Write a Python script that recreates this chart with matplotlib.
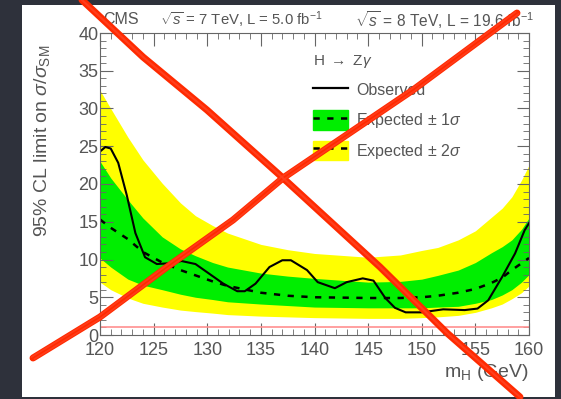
import matplotlib
matplotlib.use('Agg')
import matplotlib.pyplot as plt
from matplotlib.patches import Patch, Rectangle
from matplotlib.lines import Line2D
from matplotlib.ticker import MultipleLocator

plt.rcParams['font.family'] = ['Liberation Sans', 'DejaVu Sans']
plt.rcParams['mathtext.fontset'] = 'custom'
plt.rcParams['mathtext.rm'] = 'Liberation Sans'
plt.rcParams['mathtext.it'] = 'Liberation Sans:italic'

# observed limit
mh_obs = [120, 120.5, 121, 121.7, 122.5, 123.3, 124.2, 125.3, 126.5, 127.6, 128.9,
          130, 131.5, 132.8, 133.5, 134.5, 135.8, 137, 137.8, 139.3, 140.3, 141.9,
          143, 144.5, 145.5, 146.6, 147.5, 148.5, 150, 152, 154, 155.2, 156.2,
          157.5, 158.7, 159.6, 160]
obs = [24.3, 24.9, 24.7, 22.8, 18.5, 13.5, 10.3, 9.4, 9.5, 9.8, 9.4,
       8.3, 6.8, 5.8, 5.8, 6.8, 9.0, 9.9, 9.9, 8.6, 7.0, 6.2,
       7.0, 7.5, 7.2, 4.9, 3.6, 3.0, 3.0, 3.4, 3.3, 3.5, 4.6,
       7.7, 10.8, 13.9, 14.8]

# expected limit with 1 and 2 sigma bands
mh_exp = [120, 121, 122.6, 124, 125.8, 127.5, 128.9, 130.5, 131.9, 135, 137.5, 140,
          145, 148, 150, 151.5, 153.4, 155, 156.5, 157.5, 158.4, 159.3, 160]
exp_med = [15.3, 14.2, 12.7, 11.0, 9.6, 8.6, 7.9, 7.1, 6.5, 5.6, 5.2, 5.0,
           4.9, 4.9, 5.0, 5.2, 5.6, 6.1, 6.9, 7.6, 8.6, 9.5, 10.2]
exp_m2 = [7.0, 6.0, 4.9, 4.2, 3.7, 3.3, 3.1, 2.9, 2.7, 2.5, 2.4, 2.3,
          2.2, 2.2, 2.3, 2.4, 2.6, 3.0, 3.6, 4.1, 4.8, 5.6, 6.5]
exp_m1 = [10.2, 9.0, 7.4, 6.6, 6.0, 5.4, 5.0, 4.7, 4.4, 4.1, 3.9, 3.7,
          3.6, 3.6, 3.6, 3.7, 3.8, 4.2, 4.7, 5.3, 6.0, 7.0, 8.0]
exp_p1 = [23.0, 20.8, 17.9, 15.5, 13.0, 11.4, 10.5, 9.6, 9.0, 8.2, 7.8, 7.5,
          7.0, 7.1, 7.4, 7.9, 8.6, 9.6, 10.9, 11.7, 12.6, 14.0, 15.5]
exp_p2 = [32.4, 30.0, 26.2, 23.2, 20.1, 17.5, 15.8, 14.5, 13.5, 12.0, 11.3, 10.8,
          10.3, 10.6, 11.2, 11.6, 12.6, 13.8, 15.6, 16.8, 18.3, 20.5, 22.5]

# the big red cross over the figure (pixel positions)
stroke_a_px = [(82, 0), (143, 57), (207, 110), (283, 178), (380, 267), (447, 333), (520, 397)]
stroke_b_px = [(33, 358), (100, 317), (167, 267), (233, 220), (283, 178), (413, 90), (517, 13)]

W, H = 561, 399
fig = plt.figure(figsize=(W / 100, H / 100), dpi=100, facecolor='#2e313b')
fig.patches.append(Rectangle((22 / W, 1 - 397 / H), (555 - 22) / W, (397 - 5) / H,
                             transform=fig.transFigure, facecolor='white',
                             edgecolor='none', zorder=-5))

ax = fig.add_axes([100 / W, 1 - 335 / H, 429 / W, 302 / H])
ax.fill_between(mh_exp, exp_m2, exp_p2, color='#ffff00', lw=0)
ax.fill_between(mh_exp, exp_m1, exp_p1, color='#00ee00', lw=0)
ax.plot(mh_exp, exp_med, color='black', ls=(0, (2.5, 3)), lw=1.8)
ax.plot(mh_obs, obs, color='black', lw=1.5)
ax.axhline(1, color='#ff9090', lw=1.2)

ax.set_xlim(120, 160)
ax.set_ylim(0, 40)
ax.xaxis.set_major_locator(MultipleLocator(5))
ax.xaxis.set_minor_locator(MultipleLocator(1))
ax.yaxis.set_major_locator(MultipleLocator(5))
ax.yaxis.set_minor_locator(MultipleLocator(1))
ax.tick_params(which='both', direction='in', top=True, right=True,
               colors='#666666', labelcolor='#555555', labelsize=13)
ax.tick_params(which='major', length=9)
ax.tick_params(which='minor', length=4.5)
ax.tick_params(axis='y', pad=1)
ax.tick_params(axis='x', pad=5)
for s in ax.spines.values():
    s.set_color('#666666')

ax.set_ylabel(r'95% CL limit on $\sigma/\sigma_{\mathrm{SM}}$', fontsize=14,
              color='#555555', loc='top')
ax.yaxis.set_label_coords(-0.112, 0.96)
ax.set_xlabel(r'm$_{\mathrm{H}}$ (GeV)', fontsize=14, color='#555555', loc='right')
ax.xaxis.set_label_coords(1.0, -0.09)

fig.text(103 / W, 1 - 20 / H, 'CMS', fontsize=11.5, color='#555555', va='center')
fig.text(160 / W, 1 - 20 / H, r'$\sqrt{s}$ = 7 TeV, L = 5.0 fb$^{-1}$', fontsize=10.7,
         color='#555555', va='center')
fig.text(355 / W, 1 - 20 / H, r'$\sqrt{s}$ = 8 TeV, L = 19.6 fb$^{-1}$', fontsize=11.2,
         color='#555555', va='center')

handles = [Line2D([], [], color='black', lw=1.6),
           (Patch(color='#00ee00'), Line2D([], [], color='black', ls=(0, (2.5, 3)), lw=1.8)),
           (Patch(color='#ffff00'), Line2D([], [], color='black', ls=(0, (2.5, 3)), lw=1.8))]
labels = ['Observed', r'Expected $\pm$ 1$\sigma$', r'Expected $\pm$ 2$\sigma$']
leg = ax.legend(handles, labels, title=r'H $\rightarrow$ Z$\gamma$', loc='upper left',
                bbox_to_anchor=(0.497, 0.935), frameon=False, fontsize=11.5,
                title_fontsize=11, handlelength=2.2, handleheight=1.5,
                labelspacing=0.66, alignment='left', handletextpad=0.5,
                borderpad=0, borderaxespad=0)
for t in leg.get_texts():
    t.set_color('#555555')
leg.get_title().set_color('#555555')

# sketchy red cross
for pts in (stroke_a_px, stroke_b_px):
    xs = [p[0] / W for p in pts]
    ys = [1 - p[1] / H for p in pts]
    fig.add_artist(Line2D(xs, ys, transform=fig.transFigure, color='#ff2a00',
                          lw=5, solid_capstyle='round', zorder=10))
    for dx, dy in ((1.5, -1.0), (-1.5, 1.0)):
        fig.add_artist(Line2D([x + dx / W for x in xs], [y + dy / H for y in ys],
                              transform=fig.transFigure, color='#ff4020', lw=1.2,
                              alpha=0.8, zorder=11))

fig.savefig('out.png', dpi=100, facecolor=fig.get_facecolor())
